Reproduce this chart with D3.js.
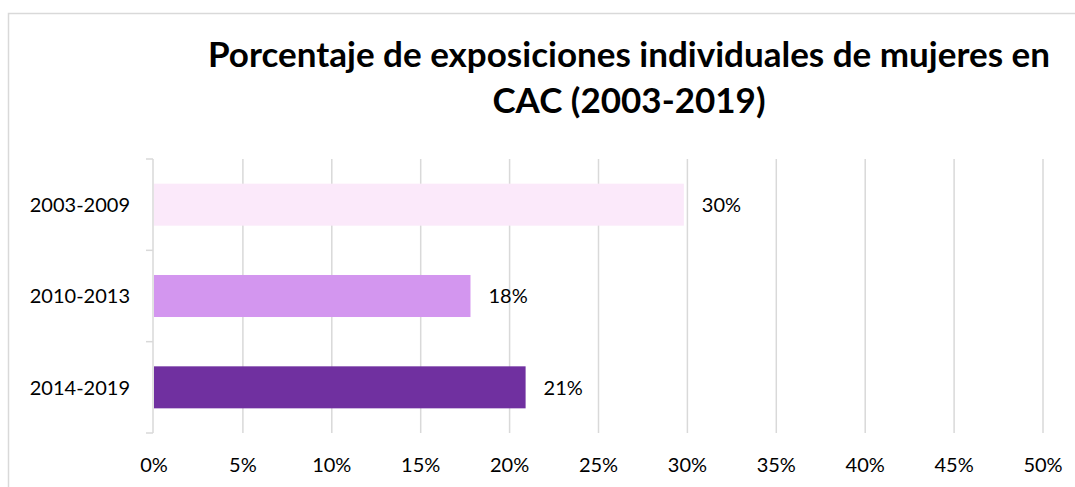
<!DOCTYPE html>
<html>
    <head>
        <meta charset="UTF-8">
        <title>Porcentaje de exposiciones individuales de mujeres en CAC</title>
        <style>
            body { margin: 0; background: #fff; }
            text { font-family: Lato, "Open Sans", sans-serif; fill: #000; }
            .grid line { stroke: #d9d9d9; stroke-width: 1.5; }
        </style>
    </head>
    <body>
        <svg id="chart" width="1075" height="487"></svg>
        <script src="https://cdn.jsdelivr.net/npm/d3@7/dist/d3.min.js"></script>
        <script>
            var categories = ["2003-2009", "2010-2013", "2014-2019"];
            var values = [0.298, 0.178, 0.209];
            var colors = ["#fbe9fa", "#d396ef", "#7030a0"];
            var ticks = [0, 0.05, 0.10, 0.15, 0.20, 0.25, 0.30, 0.35, 0.40, 0.45, 0.50];
            var titleLines = ["Porcentaje de exposiciones individuales de mujeres en", "CAC (2003-2019)"];

            var svg = d3.select("#chart");
            var plotLeft = 154, plotRight = 1043, plotTop = 159, plotBottom = 433;

            // outer chart border
            svg.append("rect")
                .attr("x", 8.5).attr("y", 13.5)
                .attr("width", 1100).attr("height", 500)
                .attr("fill", "none").attr("stroke", "#d9d9d9").attr("stroke-width", 1.5);

            var x = d3.scaleLinear().domain([0, 0.5]).range([plotLeft, plotRight]);
            var y = d3.scaleBand().domain(categories).range([plotTop, plotBottom]).paddingInner(0.54).paddingOuter(0.27);
            var pct = d3.format(".0%");

            svg.append("g").attr("class", "grid")
                .selectAll("line").data(ticks.slice(1)).enter()
                .append("line")
                .attr("x1", d => x(d)).attr("x2", d => x(d))
                .attr("y1", plotTop).attr("y2", plotBottom);

            // left axis with category ticks
            var yEdges = d3.scaleLinear().domain([0, categories.length]).range([plotTop, plotBottom]);
            var axis = svg.append("g").attr("stroke", "#d9d9d9").attr("stroke-width", 1.5);
            axis.append("line").attr("x1", plotLeft - 1).attr("x2", plotLeft - 1).attr("y1", plotTop).attr("y2", plotBottom);
            axis.selectAll("line.tk").data(d3.range(categories.length + 1)).enter()
                .append("line").attr("class", "tk")
                .attr("x1", plotLeft - 8).attr("x2", plotLeft - 1)
                .attr("y1", d => yEdges(d)).attr("y2", d => yEdges(d));

            svg.append("g").selectAll("rect").data(values).enter()
                .append("rect")
                .attr("x", x(0))
                .attr("y", (d, i) => y(categories[i]))
                .attr("width", d => x(d) - x(0))
                .attr("height", y.bandwidth())
                .attr("fill", (d, i) => colors[i]);

            svg.append("g").selectAll("text").data(values).enter()
                .append("text")
                .attr("x", d => x(d) + 18)
                .attr("y", (d, i) => y(categories[i]) + y.bandwidth() / 2)
                .attr("dy", "0.36em")
                .attr("font-size", 20)
                .text(d => pct(d));

            svg.append("g").selectAll("text").data(categories).enter()
                .append("text")
                .attr("x", 130)
                .attr("y", d => y(d) + y.bandwidth() / 2)
                .attr("dy", "0.36em")
                .attr("text-anchor", "end")
                .attr("font-size", 20)
                .text(d => d);

            svg.append("g").selectAll("text").data(ticks).enter()
                .append("text")
                .attr("x", d => x(d))
                .attr("y", 472)
                .attr("text-anchor", "middle")
                .attr("font-size", 20)
                .text(d => pct(d));

            svg.append("g").selectAll("text").data(titleLines).enter()
                .append("text")
                .attr("x", 629)
                .attr("y", (d, i) => 67 + i * 46)
                .attr("text-anchor", "middle")
                .attr("font-size", 35)
                .attr("font-weight", "bold")
                .text(d => d);
        </script>
    </body>
</html>
